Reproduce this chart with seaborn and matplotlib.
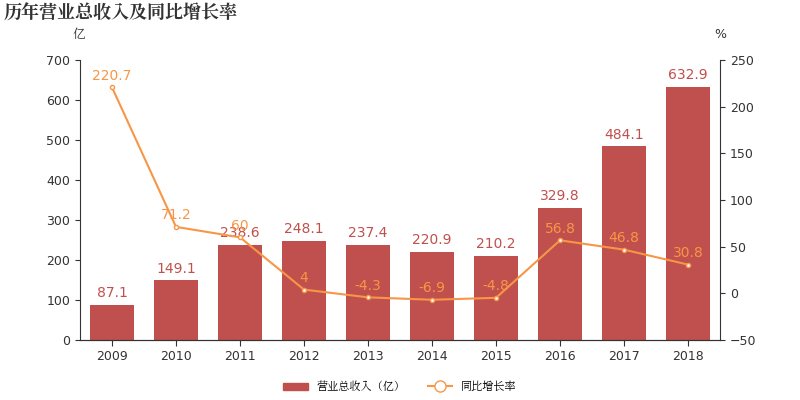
import matplotlib
matplotlib.use("Agg")
import matplotlib.pyplot as plt
from matplotlib import font_manager as fm
import seaborn as sns
import pandas as pd
from matplotlib.lines import Line2D
from matplotlib.patches import Patch

cjk = [f for f in fm.findSystemFonts() if "CJK" in f or "cjk" in f]
cjk_name = "Noto Sans CJK SC"
if cjk:
    pref = [f for f in cjk if "SC" in f] or cjk
    fm.fontManager.addfont(pref[0])
    cjk_name = fm.FontProperties(fname=pref[0]).get_name()
plt.rcParams["font.family"] = "sans-serif"
plt.rcParams["font.sans-serif"] = ["DejaVu Sans", cjk_name]

years = ["2009","2010","2011","2012","2013","2014","2015","2016","2017","2018"]
revenue = [87.1,149.1,238.6,248.1,237.4,220.9,210.2,329.8,484.1,632.9]
growth = [220.7,71.2,60,4,-4.3,-6.9,-4.8,56.8,46.8,30.8]
growth_labels = ["220.7","71.2","60","4","-4.3","-6.9","-4.8","56.8","46.8","30.8"]

bar_c = "#c0504d"
line_c = "#f79646"
df = pd.DataFrame({"year": years, "rev": revenue, "g": growth})

fig = plt.figure(figsize=(8, 4), dpi=100)
ax = fig.add_axes([0.1, 0.15, 0.8, 0.7])
sns.barplot(data=df, x="year", y="rev", color=bar_c, saturation=1, width=0.7, ax=ax)
ax.set_ylim(0, 700)
ax.set_yticks(range(0, 701, 100))
ax.set_xlabel(""); ax.set_ylabel("")
for i, v in enumerate(revenue):
    ax.text(i, v + 12, f"{v}", ha="center", va="bottom", color=bar_c, fontsize=10)

ax2 = ax.twinx()
ax2.plot(range(len(years)), growth, color=line_c, lw=1.5, marker="o", ms=3,
         mfc="white", mec=line_c)
ax2.set_ylim(-50, 250)
ax2.set_yticks(range(-50, 251, 50))
for i, (v, s) in enumerate(zip(growth, growth_labels)):
    ax2.text(i, v + 5, s, ha="center", va="bottom", color=line_c, fontsize=10)
ax.set_xlim(-0.5, len(years) - 0.5)

for a in (ax, ax2):
    a.spines["top"].set_visible(False)
    a.spines["left"].set_visible(a is ax)
    a.spines["right"].set_visible(a is ax2)
    a.tick_params(labelsize=9, colors="#333333")
    for sp in a.spines.values():
        sp.set_color("#333333")
ax.tick_params(axis="x", length=4)

fig.text(0.005, 0.965, "历年营业总收入及同比增长率", fontsize=13, fontweight="bold",
         color="#333333", va="center", family=cjk_name)
fig.text(0.098, 0.905, "亿", fontsize=9, ha="center", color="#333333", family=cjk_name)
fig.text(0.9, 0.905, "%", fontsize=9, ha="center", color="#333333")

handles = [Patch(color=bar_c, label="营业总收入（亿）"),
           Line2D([], [], color=line_c, marker="o", mfc="white", ms=8, label="同比增长率")]
fig.legend(handles=handles, loc="center", bbox_to_anchor=(0.5, 0.032), ncol=2,
           frameon=False, prop={"family": cjk_name, "size": 8}, handlelength=2.2)
fig.savefig("out.png", dpi=100)
